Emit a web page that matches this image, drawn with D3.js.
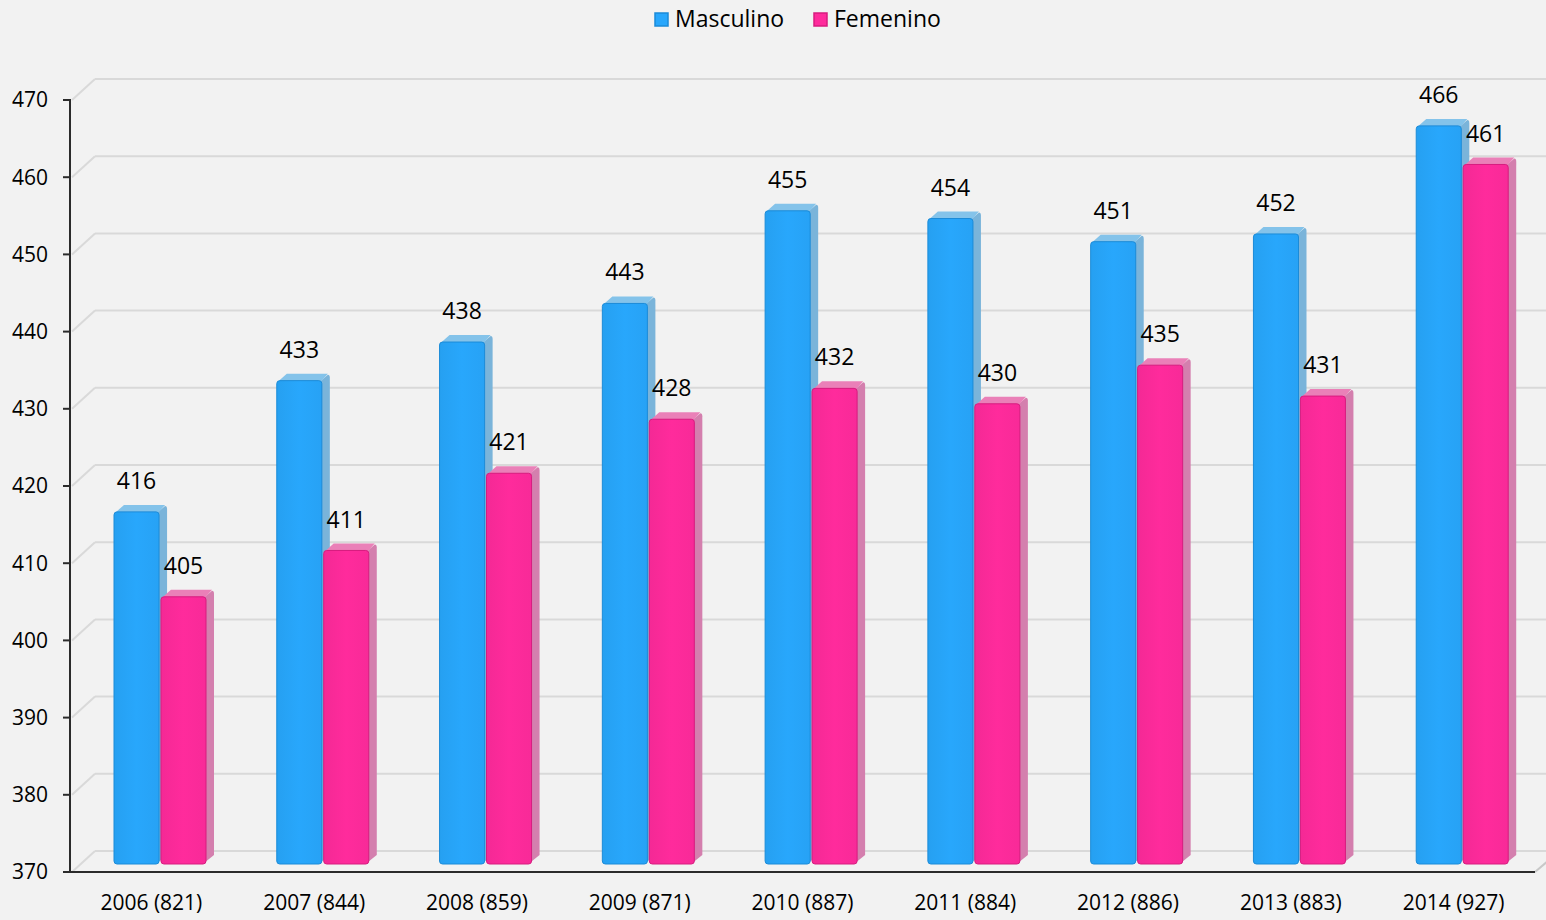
<!DOCTYPE html>
<html>
<head>
<meta charset="utf-8">
<script src="https://cdn.jsdelivr.net/npm/d3@7"></script>
<style>
  html, body { margin: 0; padding: 0; background: #f2f2f2; }
  svg { display: block; font-family: "Open Sans", "Noto Sans", sans-serif; }
</style>
</head>
<body>
<div id="chart"></div>
<script>
// data
var categories = ["2006 (821)", "2007 (844)", "2008 (859)", "2009 (871)", "2010 (887)",
                  "2011 (884)", "2012 (886)", "2013 (883)", "2014 (927)"];
var masculino = [416, 433, 438, 443, 455, 454, 451, 452, 466];
var femenino  = [405, 411, 421, 428, 432, 430, 435, 431, 461];
var seriesNames = ["Masculino", "Femenino"];
var yTicks = [370, 380, 390, 400, 410, 420, 430, 440, 450, 460, 470];

var width = 1546, height = 920;
var plotLeft = 70, plotRight = 1535, plotTop = 100, plotBottom = 872;
var wallX = 25, wallY = -21;     // depth of the back wall
var barDX = 8, barDY = -7;       // depth of each bar

var colors = {
  Masculino: {front: "#28a7fc", edge: "#1b8bd8", top: "#84c3ea", side: "#7ab4da"},
  Femenino:  {front: "#ff2b9c", edge: "#d71c7f", top: "#ea80b8", side: "#d47fae"}
};

var svg = d3.select("#chart").append("svg")
  .attr("width", width)
  .attr("height", height);

svg.append("rect").attr("width", width).attr("height", height).attr("fill", "#f2f2f2");

var y = d3.scaleLinear().domain([370, 470]).range([plotBottom, plotTop]);
var x0 = d3.scaleBand().domain(categories).range([plotLeft, plotRight]).padding(0);
var x1 = d3.scaleBand().domain(seriesNames).range([44, 136]).paddingInner(0.04);

// back wall gridlines and their diagonal connectors
var grid = svg.append("g");
yTicks.forEach(function(t) {
  grid.append("line")
    .attr("x1", plotLeft + wallX).attr("x2", width)
    .attr("y1", y(t) + wallY).attr("y2", y(t) + wallY)
    .attr("stroke", "#d9d9d9").attr("stroke-width", 2);
  grid.append("line")
    .attr("x1", plotLeft + 2).attr("x2", plotLeft + wallX)
    .attr("y1", y(t)).attr("y2", y(t) + wallY)
    .attr("stroke", "#d9d9d9").attr("stroke-width", 2);
});
// right edge of the floor
grid.append("line")
  .attr("x1", plotRight).attr("y1", plotBottom)
  .attr("x2", plotRight + 14).attr("y2", plotBottom - 12)
  .attr("stroke", "#c8c8c8").attr("stroke-width", 2);

// gradient for front faces
var defs = svg.append("defs");
seriesNames.forEach(function(s, i) {
  var g = defs.append("linearGradient").attr("id", "grad" + i)
    .attr("x1", "0").attr("x2", "1").attr("y1", "0").attr("y2", "0");
  g.append("stop").attr("offset", "0").attr("stop-color", d3.color(colors[s].front).darker(0.12));
  g.append("stop").attr("offset", "0.5").attr("stop-color", colors[s].front);
  g.append("stop").attr("offset", "1").attr("stop-color", d3.color(colors[s].front).darker(0.08));
});

// bars
var barBottom = plotBottom - 8;
var bars = svg.append("g");
categories.forEach(function(c, i) {
  [masculino[i], femenino[i]].forEach(function(v, j) {
    var s = seriesNames[j];
    var bx = x0(c) + x1(s);
    var bw = x1.bandwidth();
    var bt = y(v) - 5;
    var g = bars.append("g");

    g.append("path")
      .attr("d", "M" + (bx + bw - 2) + "," + (bt + 1) +
                 "L" + (bx + bw + barDX - 2) + "," + (bt + barDY + 1) +
                 "Q" + (bx + bw + barDX) + "," + (bt + barDY + 1) + " " + (bx + bw + barDX) + "," + (bt + barDY + 4) +
                 "L" + (bx + bw + barDX) + "," + (barBottom + barDY - 2) +
                 "L" + (bx + bw - 2) + "," + (barBottom - 1) + "Z")
      .attr("fill", colors[s].side);

    g.append("path")
      .attr("d", "M" + (bx + 1) + "," + (bt + 1) +
                 "L" + (bx + barDX + 2) + "," + (bt + barDY) +
                 "L" + (bx + bw + barDX - 2) + "," + (bt + barDY) +
                 "L" + (bx + bw - 1) + "," + (bt + 1) + "Z")
      .attr("fill", colors[s].top);

    g.append("rect")
      .attr("x", bx).attr("y", bt)
      .attr("width", bw).attr("height", barBottom - bt)
      .attr("rx", 3).attr("ry", 3)
      .attr("fill", "url(#grad" + j + ")")
      .attr("stroke", colors[s].edge).attr("stroke-width", 1);

    // value label
    svg.append("text")
      .attr("x", bx + bw / 2)
      .attr("y", bt - 31)
      .attr("dy", "0.35em")
      .attr("text-anchor", "middle")
      .attr("font-size", 23)
      .attr("fill", "#000")
      .text(v);
  });
});

// y axis
var axis = svg.append("g");
axis.append("line")
  .attr("x1", plotLeft).attr("x2", plotLeft).attr("y1", plotTop - 1).attr("y2", plotBottom + 1)
  .attr("stroke", "#2b2b2b").attr("stroke-width", 2);
yTicks.forEach(function(t) {
  axis.append("line")
    .attr("x1", plotLeft - 7).attr("x2", plotLeft).attr("y1", y(t)).attr("y2", y(t))
    .attr("stroke", "#2b2b2b").attr("stroke-width", 2);
  axis.append("text")
    .attr("x", 48).attr("y", y(t))
    .attr("dy", "0.35em")
    .attr("text-anchor", "end")
    .attr("font-size", 21)
    .text(t);
});

// x axis
axis.append("line")
  .attr("x1", plotLeft).attr("x2", plotRight).attr("y1", plotBottom).attr("y2", plotBottom)
  .attr("stroke", "#2b2b2b").attr("stroke-width", 2);
categories.forEach(function(c) {
  axis.append("text")
    .attr("x", x0(c) + x0.bandwidth() / 2)
    .attr("y", 903)
    .attr("dy", "0.35em")
    .attr("text-anchor", "middle")
    .attr("font-size", 21)
    .text(c);
});

// legend
var legendPos = [{x: 655, tx: 675}, {x: 814, tx: 834}];
seriesNames.forEach(function(s, i) {
  svg.append("rect")
    .attr("x", legendPos[i].x).attr("y", 13)
    .attr("width", 13).attr("height", 13)
    .attr("fill", colors[s].front)
    .attr("stroke", colors[s].edge).attr("stroke-width", 1.5);
  svg.append("text")
    .attr("x", legendPos[i].tx).attr("y", 19)
    .attr("dy", "0.35em")
    .attr("font-size", 23)
    .text(s);
});
</script>
</body>
</html>
